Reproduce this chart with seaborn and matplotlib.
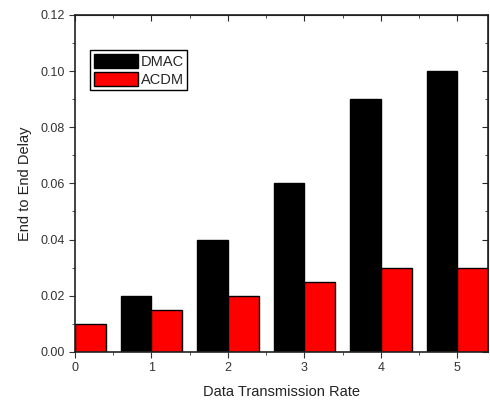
import seaborn as sns
import matplotlib.pyplot as plt
import pandas as pd
from matplotlib.ticker import MultipleLocator

rates = ["0", "1", "2", "3", "4", "5"]
dmac = [0.0, 0.02, 0.04, 0.06, 0.09, 0.10]
acdm = [0.01, 0.015, 0.02, 0.025, 0.03, 0.03]

df = pd.DataFrame({
    "rate": rates * 2,
    "delay": dmac + acdm,
    "protocol": ["DMAC"] * len(rates) + ["ACDM"] * len(rates),
})

sns.set_style("ticks")
plt.rcParams["font.family"] = ["Liberation Sans", "DejaVu Sans"]

fig = plt.figure(figsize=(4.9, 4.03), dpi=100)
ax = fig.add_axes([0.153, 0.127, 0.843, 0.836])

sns.barplot(
    data=df, x="rate", y="delay", hue="protocol",
    palette={"DMAC": "black", "ACDM": "#ff0000"},
    edgecolor="black", linewidth=1, saturation=1, ax=ax,
)

ax.set_xlim(0, 5.4)
ax.set_ylim(0, 0.12)
ax.set_xticks(range(6))
ax.set_xticklabels(rates)
ax.xaxis.set_minor_locator(MultipleLocator(0.5))
ax.yaxis.set_major_locator(MultipleLocator(0.02))
ax.yaxis.set_minor_locator(MultipleLocator(0.01))
ax.yaxis.set_major_formatter(plt.FormatStrFormatter("%.2f"))
ax.tick_params(which="both", direction="out", top=False, right=False, labelsize=9, colors="#333333")
ax.tick_params(which="major", length=4)
ax.tick_params(which="minor", length=2.5)

# inward ticks on top and right like Origin
sec_x = ax.secondary_xaxis("top")
sec_x.set_xticks(range(6))
sec_x.xaxis.set_minor_locator(MultipleLocator(0.5))
sec_x.tick_params(which="both", direction="in", labeltop=False)
sec_x.tick_params(which="major", length=4)
sec_x.tick_params(which="minor", length=2.5)
sec_y = ax.secondary_yaxis("right")
sec_y.yaxis.set_major_locator(MultipleLocator(0.02))
sec_y.yaxis.set_minor_locator(MultipleLocator(0.01))
sec_y.tick_params(which="both", direction="in", labelright=False)
sec_y.tick_params(which="major", length=4)
sec_y.tick_params(which="minor", length=2.5)

for s in ax.spines.values():
    s.set_linewidth(1.2)
    s.set_color("#222222")

ax.set_xlabel("Data Transmission Rate", fontsize=10.5, labelpad=8, color="#222222")
ax.set_ylabel("End to End Delay", fontsize=10.5, labelpad=6, color="#222222")

ax.legend(
    loc="upper left", bbox_to_anchor=(0.037, 0.895), frameon=True, fancybox=False,
    edgecolor="black", framealpha=1, fontsize=10.5, handlelength=3.0,
    handleheight=1.1, handletextpad=0.2, borderpad=0.25, labelspacing=0.2,
    borderaxespad=0, title=None,
)

fig.savefig("out.png", dpi=100)
